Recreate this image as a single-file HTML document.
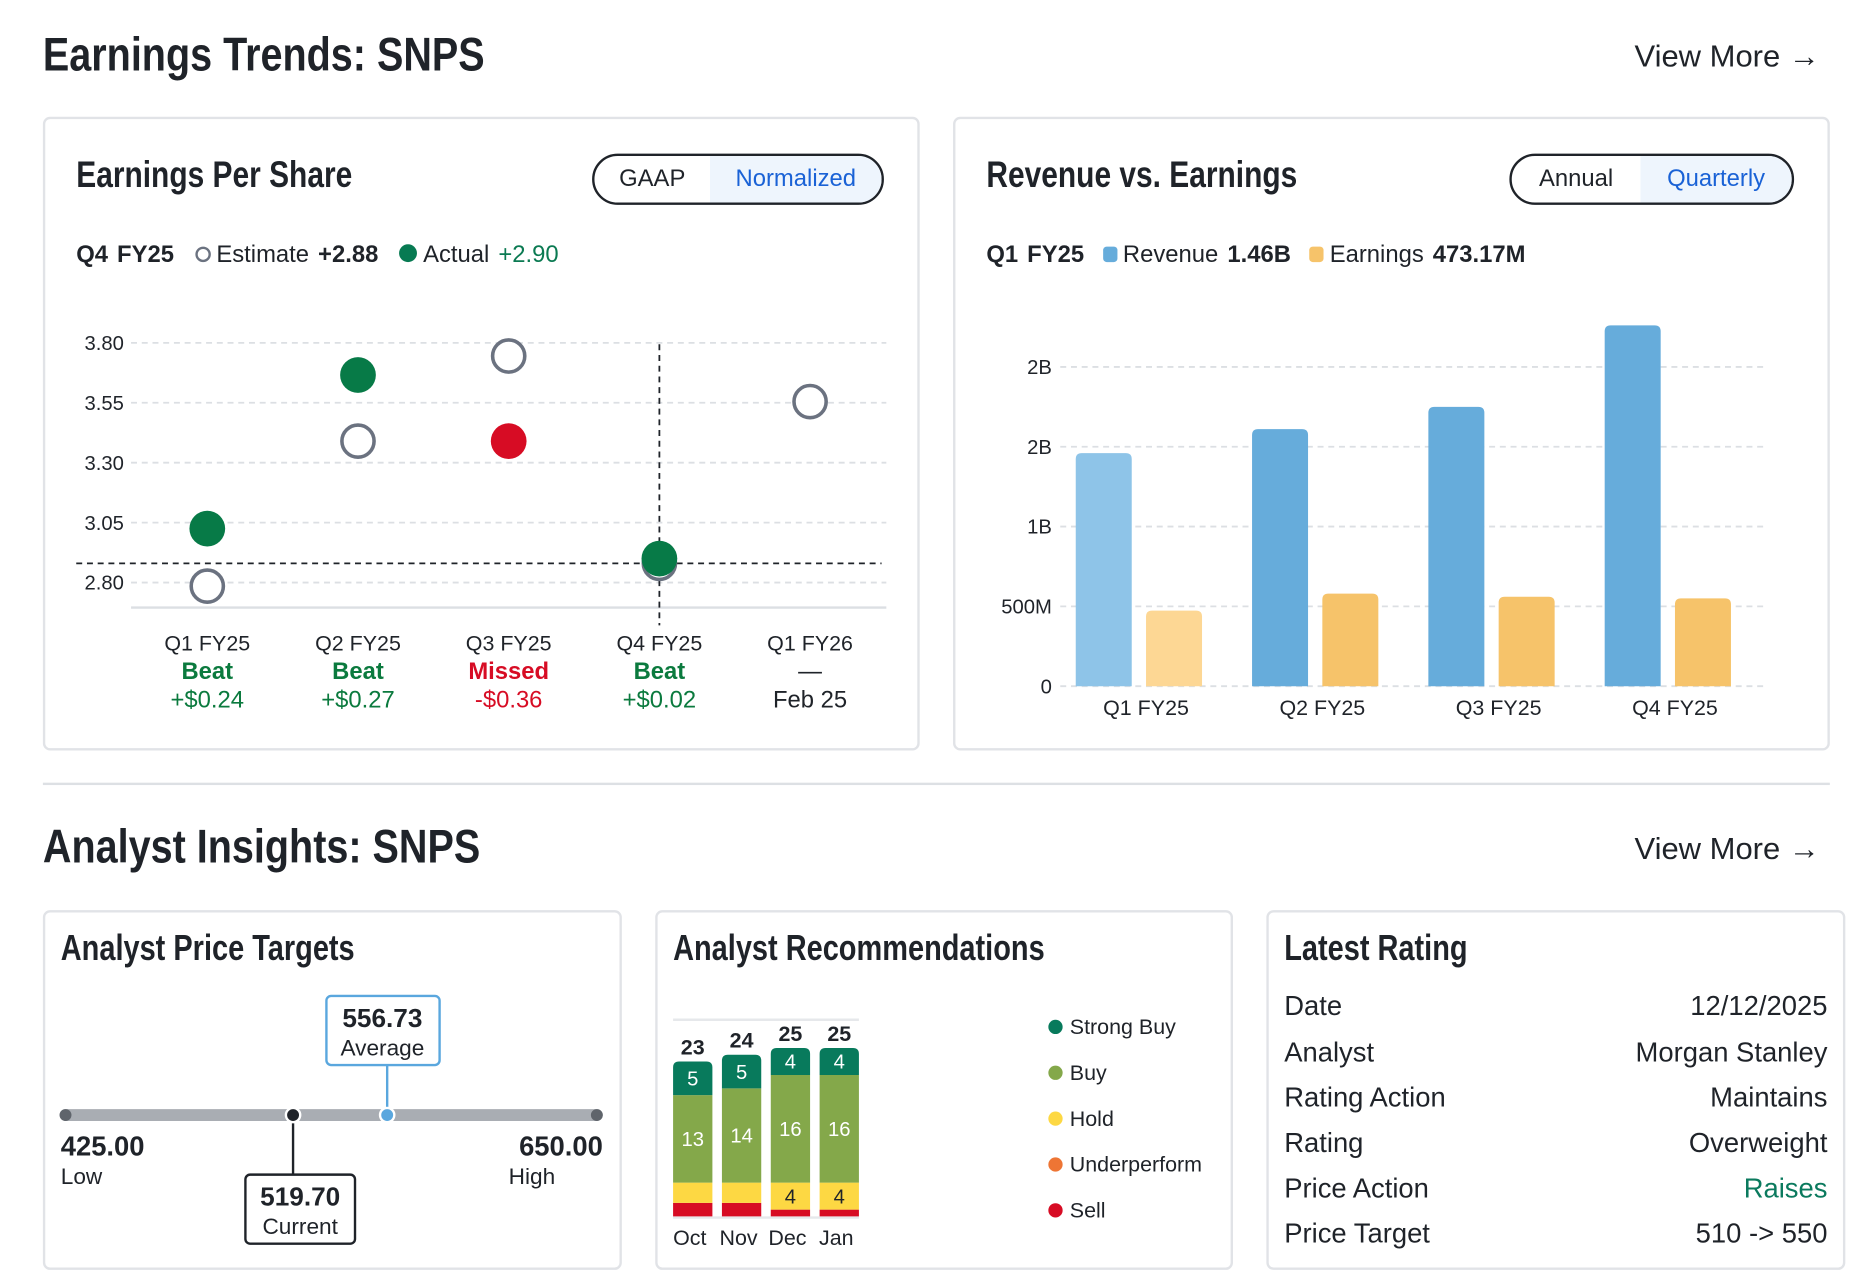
<!DOCTYPE html>
<html><head><meta charset="utf-8">
<style>
html,body{margin:0;padding:0;background:#fff;width:1868px;height:1272px;overflow:hidden}
#page{position:absolute;left:0;top:0;width:1568px;height:1068px;transform:scale(1.1913);transform-origin:0 0;font-family:"Liberation Sans",sans-serif;color:#1f2329}
.abs{position:absolute}
.h1{font-weight:bold;font-size:40px;color:#1f2329;transform:scaleX(0.83);transform-origin:0 0;white-space:nowrap}
.h2{font-weight:bold;font-size:31px;color:#1f2329;transform:scaleX(0.81);transform-origin:0 0;white-space:nowrap}
.card{position:absolute;border:2px solid #e1e3e7;border-radius:6px;box-sizing:border-box;background:#fff}
.vm{font-size:26px;color:#1f2329}
.tog{position:absolute;border:2px solid #1f2329;border-radius:22px;box-sizing:border-box;overflow:hidden;display:flex;font-size:20px}
.tog div{display:flex;align-items:center;justify-content:center;height:100%}
.tog .on{background:#eef5fd;color:#1a62d6}
.leg{font-size:20px;white-space:nowrap;word-spacing:2px}
svg text{font-family:"Liberation Sans",sans-serif}
.row{position:absolute;left:1078px;width:456px;font-size:23px;display:flex;justify-content:space-between}
</style></head>
<body>
<div id="page">
<div class="abs h1" style="left:36px;top:24px">Earnings Trends: SNPS</div>
<div class="abs vm" style="left:1372px;top:32px">View More →</div>

<div class="card" style="left:36px;top:98px;width:736px;height:532px"></div>
<div class="abs h2" style="left:64px;top:129px">Earnings Per Share</div>
<div class="tog" style="left:497px;top:129px;width:245px;height:43px">
<div style="width:97px">GAAP</div>
<div class="on" style="flex:1">Normalized</div></div>
<div class="abs leg" style="left:64px;top:203px"><b>Q4 FY25</b> <span style="display:inline-block;width:9px;height:9px;border:2px solid #6b7280;border-radius:50%;margin:0 5px 0 10px"></span>Estimate <b>+2.88</b> <span style="display:inline-block;width:15px;height:15px;background:#077a52;border-radius:50%;margin:0 5px 0 10px"></span>Actual <span style="color:#0b7a52">+2.90</span></div>
<svg id="eps" class="abs" style="left:0;top:0" width="800" height="640"></svg>

<div class="card" style="left:800px;top:98px;width:736px;height:532px"></div>
<div class="abs h2" style="left:828px;top:129px">Revenue vs. Earnings</div>
<div class="tog" style="left:1267px;top:129px;width:239px;height:43px">
<div style="width:108px">Annual</div>
<div class="on" style="flex:1">Quarterly</div></div>
<div class="abs leg" style="left:828px;top:203px"><b>Q1 FY25</b> <span style="display:inline-block;width:12px;height:13px;background:#66acdb;border-radius:3px;margin:0 5px 0 8px"></span>Revenue <b>1.46B</b> <span style="display:inline-block;width:12px;height:13px;background:#f6c36a;border-radius:3px;margin:0 5px 0 8px"></span>Earnings <b>473.17M</b></div>
<svg id="rev" class="abs" style="left:0;top:0" width="1560" height="640"></svg>

<div class="abs" style="left:36px;top:657px;width:1500px;height:2px;background:#dde0e4"></div>
<div class="abs h1" style="left:36px;top:689px">Analyst Insights: SNPS</div>
<div class="abs vm" style="left:1372px;top:697px">View More →</div>

<div class="card" style="left:36px;top:764px;width:486px;height:302px"></div>
<div class="abs h2" style="left:51px;top:780px;font-size:30px">Analyst Price Targets</div>
<svg class="abs" style="left:0;top:0" width="560" height="1068">
<line x1="55" y1="936" x2="501" y2="936" stroke="#a9adb3" stroke-width="10" stroke-linecap="round"/>
<circle cx="55" cy="936" r="5" fill="#5f646b"/>
<circle cx="501" cy="936" r="5" fill="#5f646b"/>
<line x1="325" y1="894" x2="325" y2="936" stroke="#5aa7de" stroke-width="2"/>
<line x1="246" y1="936" x2="246" y2="986" stroke="#1f2329" stroke-width="2"/>
<circle cx="246" cy="936" r="6" fill="#1f2329" stroke="#fff" stroke-width="2"/>
<circle cx="325" cy="936" r="6" fill="#5aa7de" stroke="#fff" stroke-width="2"/>
<rect x="274" y="836" width="95" height="58" rx="4" fill="#fff" stroke="#5aa7de" stroke-width="2"/>
<text x="321" y="862" text-anchor="middle" font-size="22" font-weight="bold" fill="#1f2329">556.73</text>
<text x="321" y="886" text-anchor="middle" font-size="19" fill="#1f2329">Average</text>
<rect x="206" y="986" width="92" height="58" rx="4" fill="#fff" stroke="#1f2329" stroke-width="2"/>
<text x="252" y="1012" text-anchor="middle" font-size="22" font-weight="bold" fill="#1f2329">519.70</text>
<text x="252" y="1036" text-anchor="middle" font-size="19" fill="#1f2329">Current</text>
<text x="51" y="970" font-size="23" font-weight="bold" fill="#1f2329">425.00</text>
<text x="51" y="994" font-size="19" fill="#1f2329">Low</text>
<text x="506" y="970" text-anchor="end" font-size="23" font-weight="bold" fill="#1f2329">650.00</text>
<text x="427" y="994" font-size="19" fill="#1f2329">High</text>
</svg>

<div class="card" style="left:550px;top:764px;width:485px;height:302px"></div>
<div class="abs h2" style="left:565px;top:780px;font-size:30px">Analyst Recommendations</div>
<svg id="rec" class="abs" style="left:0;top:0" width="1060" height="1068"></svg>

<div class="card" style="left:1063px;top:764px;width:486px;height:302px"></div>
<div class="abs h2" style="left:1078px;top:780px;font-size:30px">Latest Rating</div>
<div class="row" style="top:831px"><span>Date</span><span>12/12/2025</span></div>
<div class="row" style="top:870px"><span>Analyst</span><span>Morgan Stanley</span></div>
<div class="row" style="top:908px"><span>Rating Action</span><span>Maintains</span></div>
<div class="row" style="top:946px"><span>Rating</span><span>Overweight</span></div>
<div class="row" style="top:984px"><span>Price Action</span><span style="color:#0b7a5e">Raises</span></div>
<div class="row" style="top:1022px"><span>Price Target</span><span>510 -&gt; 550</span></div>
</div>

<script>
const NS="http://www.w3.org/2000/svg";
function mk(p,t,a){const e=document.createElementNS(NS,t);for(const k in a)e.setAttribute(k,a[k]);p.appendChild(e);return e;}

// EPS data
const epsCats=["Q1 FY25","Q2 FY25","Q3 FY25","Q4 FY25","Q1 FY26"];
const epsEstimates=[2.785,3.39,3.745,2.88,3.555];
const epsActuals=[3.025,3.666,3.39,2.90,null];
const epsResults=["Beat","Beat","Missed","Beat","—"];
const epsDiffs=["+$0.24","+$0.27","-$0.36","+$0.02","Feb 25"];
const epsTicks=[2.80,3.05,3.30,3.55,3.80];
const eps=document.getElementById('eps');
const ey=v=>489-(v-2.80)/0.25*50.3;
const ex=i=>174+i*126.5;
epsTicks.forEach(t=>{
  const g=mk(eps,'line',{x1:110,x2:744,y1:ey(t),y2:ey(t),stroke:'#dcdfe3','stroke-dasharray':'5,4','stroke-width':1.5});
  
  
  const l=mk(eps,'text',{x:104,y:ey(t)+6,'text-anchor':'end','font-size':17,fill:'#1f2329'});
  l.textContent=t.toFixed(2);
  
  
});
mk(eps,'line',{x1:110,x2:744,y1:510,y2:510,stroke:'#dcdfe3','stroke-width':2});
const curIdx=3;
const hl=mk(eps,'line',{x1:64,x2:740,y1:ey(epsEstimates[curIdx]),y2:ey(epsEstimates[curIdx]),stroke:'#1f2329','stroke-dasharray':'5,4','stroke-width':1.5});


const vl=mk(eps,'line',{x1:ex(curIdx),x2:ex(curIdx),y1:289,y2:525,stroke:'#1f2329','stroke-dasharray':'5,4','stroke-width':1.5});


epsCats.forEach((c,i)=>{
  const e=mk(eps,'circle',{cx:ex(i),cy:ey(epsEstimates[i]),r:13.5,fill:'#fff',stroke:'#6b7280','stroke-width':3});
  
  
  if(epsActuals[i]!=null){
    const miss=epsActuals[i]<epsEstimates[i];
    const a=mk(eps,'circle',{cx:ex(i),cy:ey(epsActuals[i]),r:15,fill:miss?'#d70c24':'#077a47'});
    
    
  }
  const col=epsResults[i]==="Beat"?'#0b7a3e':epsResults[i]==="Missed"?'#d70c24':'#1f2329';
  const t1=mk(eps,'text',{x:ex(i),y:546,'text-anchor':'middle','font-size':18,fill:'#1f2329'});t1.textContent=c;
  
  
  const t2=mk(eps,'text',{x:ex(i),y:570,'text-anchor':'middle','font-size':20,'font-weight':epsResults[i]==="—"?'normal':'bold',fill:col});t2.textContent=epsResults[i];
  
  
  const t3=mk(eps,'text',{x:ex(i),y:594,'text-anchor':'middle','font-size':20,fill:col});t3.textContent=epsDiffs[i];
  
  
});

// Revenue data (billions)
const revCats=["Q1 FY25","Q2 FY25","Q3 FY25","Q4 FY25"];
const revenue=[1.46,1.61,1.75,2.26];
const earnings=[0.473,0.58,0.56,0.55];
const revTicks=[0,0.5,1,1.5,2];
const revTickLabels=["0","500M","1B","2B","2B"];
const rev=document.getElementById('rev');
const ry=v=>576-v/0.5*67;
const rx=i=>962+i*148;
revTicks.forEach((t,i)=>{
  const g=mk(rev,'line',{x1:890,x2:1480,y1:ry(t),y2:ry(t),stroke:'#dcdfe3','stroke-dasharray':'5,4','stroke-width':1.5});
  
  
  const l=mk(rev,'text',{x:883,y:ry(t)+6,'text-anchor':'end','font-size':17,fill:'#1f2329'});
  l.textContent=revTickLabels[i];
  
  
});
revCats.forEach((c,i)=>{
  const hi=i===0;
  const b=mk(rev,'path',{d:bar(rx(i)-59,ry(revenue[i]),47,576-ry(revenue[i])),fill:hi?'#8ec4e8':'#66acdb'});
  
  
  const e=mk(rev,'path',{d:bar(rx(i),ry(earnings[i]),47,576-ry(earnings[i])),fill:hi?'#fdd794':'#f6c36a'});
  
  
  const t=mk(rev,'text',{x:rx(i),y:600,'text-anchor':'middle','font-size':18,fill:'#1f2329'});t.textContent=c;
  
  
});
function bar(x,y,w,h){const r=5;return `M${x},${y+h}V${y+r}Q${x},${y} ${x+r},${y}H${x+w-r}Q${x+w},${y} ${x+w},${y+r}V${y+h}Z`;}

// Recommendations
const recMonths=["Oct","Nov","Dec","Jan"];
const strongBuy=[5,5,4,4];
const buy=[13,14,16,16];
const hold=[3,3,4,4];
const underperform=[0,0,0,0];
const sell=[2,2,1,1];
const recTotals=[23,24,25,25];
const rec=document.getElementById('rec');
const unit=5.65, base=1021;
const rcx=i=>565+i*41;
mk(rec,'line',{x1:565,x2:721,y1:856,y2:856,stroke:'#e6e8eb','stroke-width':2});
mk(rec,'line',{x1:565,x2:721,y1:1022,y2:1022,stroke:'#e6e8eb','stroke-width':2});
const segs=[[sell,'#d70c24','sell-segment',false,'#fff'],[underperform,'#ee7534','underperform-segment',false,'#fff'],[hold,'#fdd843','hold-segment',true,'#1f2329'],[buy,'#84a84a','buy-segment',true,'#fff'],[strongBuy,'#087a5c','strong-buy-segment',true,'#fff']];
recMonths.forEach((m,i)=>{
  let y=base;
  segs.forEach(([arr,col,name,lab,tc],si)=>{
    const h=arr[i]*unit; if(h<=0)return;
    y-=h;
    const top=si===4;
    const r=mk(rec,'path',{d:top?bar(rcx(i),y,33,h):`M${rcx(i)},${y}h33v${h}h-33Z`,fill:col});
    
    
    if(lab&&(si!==2||arr[i]>=4)){
      const t=mk(rec,'text',{x:rcx(i)+16.5,y:y+h/2+6,'text-anchor':'middle','font-size':17,fill:tc});t.textContent=arr[i];
      
      
    }
  });
  const tt=mk(rec,'text',{x:rcx(i)+16.5,y:y-6,'text-anchor':'middle','font-size':18,'font-weight':'bold',fill:'#1f2329'});tt.textContent=recTotals[i];
  
  
  const ml=mk(rec,'text',{x:rcx(i)+14,y:1045,'text-anchor':'middle','font-size':18,fill:'#1f2329'});ml.textContent=m;
  
  
});
const legNames=["Strong Buy","Buy","Hold","Underperform","Sell"];
const legCols=['#087a5c','#84a84a','#fdd843','#ee7534','#d70c24'];
legNames.forEach((n,i)=>{
  const yy=862+i*38.5;
  const d=mk(rec,'circle',{cx:886,cy:yy,r:6,fill:legCols[i]});
  
  
  const t=mk(rec,'text',{x:898,y:yy+6,'font-size':18,fill:'#1f2329'});t.textContent=n;
  
  
});
</script>
</body></html>
